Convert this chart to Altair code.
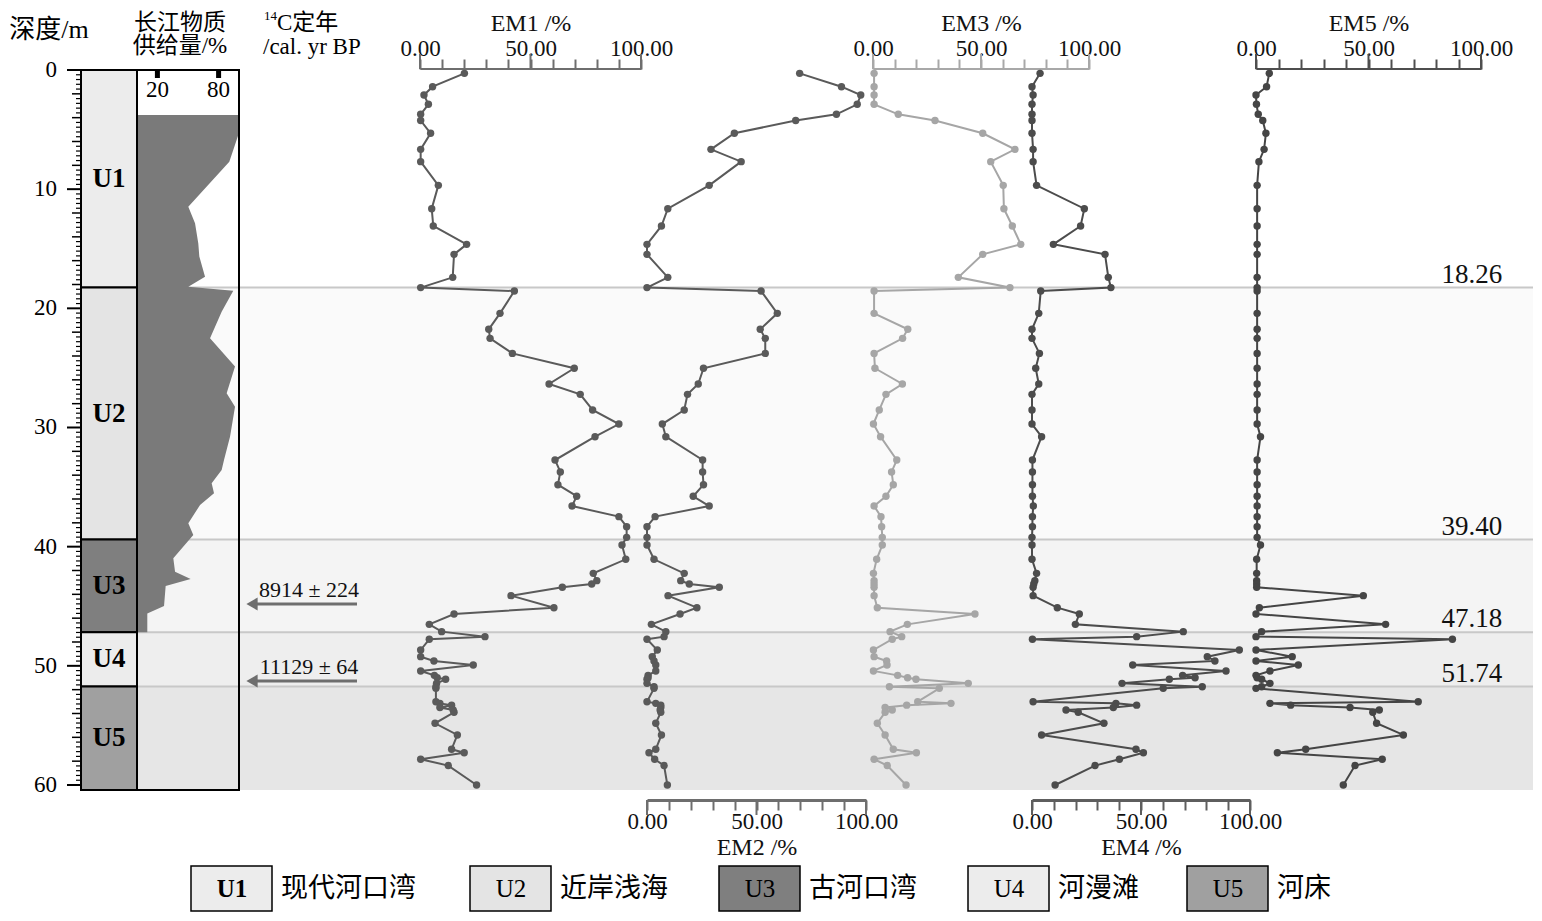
import altair as alt
import pandas as pd

# ---------------- data ----------------
DEPTH = [0.28, 1.40, 2.10, 2.88, 3.72, 4.24, 5.31, 6.66, 7.69, 9.68,
         11.64, 13.09, 14.63, 15.47, 17.40, 18.26, 18.55, 20.42, 21.76, 22.52,
         23.78, 25.03, 26.35, 27.22, 28.53, 29.71, 30.77, 32.73, 33.73, 34.80,
         35.77, 36.59, 37.48, 38.32, 39.22, 39.86, 41.06, 42.24, 42.85, 43.13,
         43.41, 44.11, 45.12, 45.65, 46.52, 47.13, 47.55, 47.77, 48.67, 49.23,
         49.59, 49.93, 50.43, 50.80, 51.00, 51.13, 51.47, 51.75, 51.89, 53.01,
         53.15, 53.30, 53.50, 53.70, 53.90, 54.82, 55.80, 57.00, 57.30, 57.84,
         58.37, 60.00]
EM1 = [20.1, 5.7, 1.8, 3.8, 0.3, 0.3, 4.8, 0.3, 0.3, 8.3,
       5.3, 6.0, 21.1, 15.4, 14.8, 0.3, 42.7, 36.2, 31.1, 31.7,
       41.8, 69.8, 58.4, 72.5, 78.1, 90.0, 79.2, 61.1, 63.5, 62.4,
       70.9, 68.8, 90.0, 93.5, 93.5, 91.4, 93.1, 78.4, 80.0, 77.7,
       64.4, 41.2, 60.6, 15.4, 4.2, 9.8, 29.4, 4.2, 0.3, 0.3,
       6.3, 24.1, 0.3, 6.5, 7.8, 11.6, 7.5, 7.2, 7.2, 7.2,
       9.0, 14.3, 9.0, 15.0, 15.4, 6.8, 16.9, 14.3, 20.0, 0.3,
       12.8, 25.6]
EM2 = [69.7, 88.8, 97.6, 96.0, 86.5, 67.9, 39.9, 29.2, 43.0, 28.4,
       9.5, 6.6, 0.0, 0.0, 9.5, 0.0, 52.1, 59.5, 51.7, 54.0,
       54.0, 25.8, 23.4, 18.5, 17.0, 7.0, 8.6, 25.4, 25.4, 25.8,
       21.1, 28.4, 3.7, 0.0, 0.0, 0.0, 3.2, 17.0, 15.4, 19.3,
       33.0, 9.6, 22.8, 15.1, 2.0, 8.6, 7.8, 0.0, 4.7, 2.4,
       3.2, 4.0, 4.0, 0.5, 0.5, 0.0, 0.0, 3.2, 3.2, 0.0,
       4.0, 6.3, 6.3, 6.0, 6.3, 4.0, 6.6, 4.0, 0.9, 3.5,
       7.8, 9.3]
EM3 = [0.5, 0.5, 0.5, 0.5, 11.7, 28.7, 50.8, 65.7, 54.5, 60.3,
       60.6, 64.5, 68.4, 50.8, 39.5, 63.4, 0.5, 0.5, 16.1, 13.7,
       0.5, 0.9, 13.6, 6.0, 2.9, 0.2, 3.5, 11.0, 8.6, 9.4,
       6.0, 0.5, 3.7, 4.0, 4.3, 4.3, 1.7, 0.2, 0.5, 0.5,
       0.5, 0.5, 2.0, 47.2, 15.9, 7.9, 13.3, 8.9, 0.2, 0.5,
       6.3, 6.5, 0.2, 11.4, 16.0, 19.9, 44.1, 7.6, 30.7, 20.7,
       36.1, 15.6, 5.6, 8.9, 5.6, 2.0, 5.6, 9.4, 20.1, 0.5,
       6.6, 15.3]
EM4 = [3.7, 0.0, 0.5, 0.0, 0.0, 0.0, 0.0, 0.5, 0.5, 2.1,
       24.0, 22.3, 9.8, 33.5, 35.0, 36.2, 4.0, 3.1, 0.0, 0.0,
       3.4, 1.7, 3.1, 0.0, 0.0, 0.0, 4.4, 0.2, 0.2, 0.2,
       0.2, 0.6, 0.2, 0.2, 0.0, 0.0, 0.0, 2.1, 1.3, 0.8,
       0.5, 0.5, 11.6, 21.7, 19.9, 69.4, 48.0, 0.2, 95.1, 80.4,
       83.9, 46.2, 89.0, 69.1, 74.8, 63.0, 41.3, 78.1, 60.2, 0.5,
       38.5, 48.0, 37.3, 15.6, 21.2, 33.0, 4.4, 47.7, 51.1, 40.1,
       28.9, 10.6]
EM5 = [5.9, 4.7, 0.0, 0.2, 1.0, 3.0, 4.4, 3.6, 1.3, 0.5,
       0.5, 0.5, 0.5, 0.5, 0.5, 0.5, 0.5, 0.5, 0.5, 0.5,
       0.5, 0.5, 0.5, 0.5, 0.5, 0.5, 2.0, 0.5, 0.5, 0.5,
       0.5, 0.5, 0.5, 0.5, 0.5, 2.0, 0.3, 0.3, 0.3, 0.3,
       0.3, 47.7, 1.5, 0.0, 57.6, 2.5, 0.0, 87.3, 0.0, 16.1,
       0.0, 18.8, 6.2, 0.0, 0.5, 2.5, 6.2, 2.5, 0.0, 72.1,
       6.2, 15.4, 41.8, 54.8, 51.9, 53.6, 65.5, 22.1, 9.5, 56.1,
       44.0, 38.8]

SUPPLY_DEPTH = [3.78, 5.45, 7.69, 11.47, 12.87, 14.55, 15.66, 17.34, 18.18, 18.52,
                20.28, 22.52, 24.89, 27.13, 28.25, 30.77, 32.73, 33.57, 34.68, 35.52,
                36.50, 38.04, 39.02, 40.98, 42.10, 42.71, 43.30, 44.98, 45.60, 47.18]
SUPPLY = [100.0, 99.3, 90.5, 50.3, 56.9, 60.1, 61.1, 66.7, 50.3, 94.4,
          83.0, 71.6, 96.1, 87.9, 96.1, 91.2, 85.3, 83.0, 73.2, 75.5,
          61.8, 50.3, 55.2, 35.6, 37.3, 52.6, 28.1, 26.5, 10.1, 10.1]

UNITS = ["U1", "U2", "U3", "U4", "U5"]
UNIT_NAMES = ["现代河口湾", "近岸浅海", "古河口湾", "河漫滩", "河床"]
UNIT_TOP = [0.0, 18.26, 39.40, 47.18, 51.74]
UNIT_BOTTOM = [18.26, 39.40, 47.18, 51.74, 60.42]
BOUNDARY_LABELS = ["18.26", "39.40", "47.18", "51.74"]
DATE_DEPTH = [44.81, 51.27]
DATE_LABELS = ["8914 ± 224", "11129 ± 64"]
EM_TICKS = list(range(0, 101, 10))
EM_MAJOR = [0, 50, 100]
SUPPLY_TICKS = [20, 80]
DEPTH_MAJOR = list(range(0, 61, 10))
DEPTH_MEDIUM = [d for d in range(2, 60, 2) if d % 10]
DEPTH_MINOR = [round(0.4 * k, 1) for k in range(1, 150) if k % 5]

# ---------------- styles ----------------
UNIT_FILL = ["#ececec", "#e4e4e4", "#7f7f7f", "#ececec", "#a0a0a0"]
BAND_FILL = ["#ffffff", "#fafafa", "#f4f4f4", "#eeeeee", "#e6e6e6"]
W, H = 1452, 720
SERIF = "Liberation Serif"
CJK = "Liberation Serif, Noto Sans CJK SC"
Y = alt.Scale(domain=[0, 60.42], reverse=True, nice=False, zero=False)

units = pd.DataFrame({"unit": UNITS, "name": UNIT_NAMES, "top": UNIT_TOP,
                      "bottom": UNIT_BOTTOM, "fill": UNIT_FILL, "band": BAND_FILL})
units["mid"] = (units["top"] + units["bottom"]) / 2
bounds = pd.DataFrame({"depth": UNIT_BOTTOM[:4], "label": BOUNDARY_LABELS})
em_df = pd.DataFrame({"depth": DEPTH, "EM1": EM1, "EM2": EM2, "EM3": EM3, "EM4": EM4, "EM5": EM5})


def ydepth(field):
    return alt.Y(f"{field}:Q", scale=Y, axis=None)


# ---------------- background bands & boundaries ----------------
FRAME = alt.Scale(domain=[0, 1], range=[56, W], nice=False, zero=False)
bands = alt.Chart(units).transform_calculate(a="0", b="1").mark_rect().encode(
    x=alt.X("a:Q", scale=FRAME, axis=None), x2="b:Q",
    y=ydepth("top"), y2="bottom:Q", fill=alt.Fill("band:N", scale=None))
blines = alt.Chart(bounds).transform_calculate(a="0", b="1").mark_rule(
    color="#c8c8c8", strokeWidth=2).encode(
    x=alt.X("a:Q", scale=FRAME, axis=None), x2="b:Q", y=ydepth("depth"))
blabels = alt.Chart(bounds).transform_calculate(a="0.978").mark_text(
    align="right", baseline="alphabetic", dy=-5, font=SERIF, fontSize=27, color="#111").encode(
    x=alt.X("a:Q", scale=FRAME, axis=None), y=ydepth("depth"), text="label:N")
frame = alt.layer(bands, blines, blabels)

# ---------------- Yangtze supply ----------------
SUP = alt.Scale(domain=[0, 100], range=[56, 158], nice=False, zero=False)
supply_df = pd.DataFrame({"depth": SUPPLY_DEPTH, "v": SUPPLY})
area = alt.Chart(supply_df).transform_calculate(z="0").mark_area(
    orient="horizontal", color="#7a7a7a", opacity=1).encode(
    y=ydepth("depth"), x=alt.X("v:Q", scale=SUP, axis=None, stack=None), x2="z:Q")
box = alt.Chart(pd.DataFrame({"k": [0]})).transform_calculate(
    a="0", b="100", t="0", u="60.42").mark_rect(
    fill="white", fillOpacity=0, stroke="black", strokeWidth=2).encode(
    x=alt.X("a:Q", scale=SUP, axis=None), x2="b:Q", y=ydepth("t"), y2="u:Q")
sticks = alt.Chart(pd.DataFrame({"v": SUPPLY_TICKS})).mark_rule(
    color="black", strokeWidth=5).encode(
    x=alt.X("v:Q", scale=SUP, axis=None), y=alt.value(0), y2=alt.value(8))
slabels = alt.Chart(pd.DataFrame({"v": SUPPLY_TICKS})).mark_text(
    font=SERIF, fontSize=23, color="black", baseline="middle").encode(
    x=alt.X("v:Q", scale=SUP, axis=None), y=alt.value(20), text="v:Q")
supply = alt.layer(area, box, sticks, slabels)

# ---------------- lithology column & depth axis ----------------
COL = alt.Scale(domain=[0, 1], range=[0, 56], nice=False, zero=False)
col = alt.Chart(units).transform_calculate(a="0", b="1").mark_rect(
    stroke="black", strokeWidth=2).encode(
    x=alt.X("a:Q", scale=COL, axis=None), x2="b:Q",
    y=ydepth("top"), y2="bottom:Q", fill=alt.Fill("fill:N", scale=None))
coltext = alt.Chart(units).transform_calculate(c="0.5").mark_text(
    font=SERIF, fontSize=27, fontWeight="bold", color="black").encode(
    x=alt.X("c:Q", scale=COL, axis=None), y=ydepth("mid"), text="unit:N")
major_df = pd.DataFrame({"d": DEPTH_MAJOR})
dmajor = alt.Chart(major_df).mark_rule(color="black", strokeWidth=2).encode(
    y=ydepth("d"), x=alt.value(-14), x2=alt.value(0))
dlabels = alt.Chart(major_df).mark_text(
    font=SERIF, fontSize=23, color="black", align="right", baseline="middle").encode(
    y=ydepth("d"), x=alt.value(-24), text="d:Q")
med = alt.Chart(pd.DataFrame({"d": DEPTH_MEDIUM})).mark_rule(color="black", strokeWidth=1.5).encode(
    y=ydepth("d"), x=alt.value(-9), x2=alt.value(0))
minor = alt.Chart(pd.DataFrame({"d": DEPTH_MINOR})).mark_rule(color="black", strokeWidth=1.2).encode(
    y=ydepth("d"), x=alt.value(-5), x2=alt.value(0))
column = alt.layer(col, coltext, dmajor, dlabels, med, minor)

# ---------------- 14C dates ----------------
dates_df = pd.DataFrame({"depth": DATE_DEPTH, "label": DATE_LABELS})
arrow_line = alt.Chart(dates_df).mark_rule(color="#6e6e6e", strokeWidth=3).encode(
    y=ydepth("depth"), x=alt.value(172), x2=alt.value(276))
arrow_head = alt.Chart(dates_df).mark_point(
    shape="triangle-left", filled=True, color="#6e6e6e", size=170, opacity=1).encode(
    y=ydepth("depth"), x=alt.value(171))
date_text = alt.Chart(dates_df).mark_text(
    font=SERIF, fontSize=22, color="#111", dy=-14).encode(
    y=ydepth("depth"), x=alt.value(228), text="label:N")
dates = alt.layer(arrow_line, arrow_head, date_text)


# ---------------- end-member curves ----------------
def em_group(field, rng, orient, line_color, axis_color):
    xs = alt.Scale(domain=[0, 100], range=rng, nice=False, zero=False)
    top = orient == "top"
    axis = alt.Axis(
        orient=orient, values=EM_TICKS, offset=1 if top else 10,
        tickSize=10, tickWidth=2, tickColor=axis_color,
        domainColor=axis_color, domainWidth=3,
        labelExpr="datum.value % 50 === 0 ? format(datum.value, '.2f') : ''",
        labelFont=SERIF, labelFontSize=23, labelColor="#111",
        labelBaseline="alphabetic", labelPadding=4 if top else 18,
        labelFlush=False, labelOverlap=False,
        title=f"{field} /%", titleFont=SERIF, titleFontSize=24, titleFontWeight="normal",
        titleColor="#111", titleBaseline="middle", titleY=-46 if top else 47, grid=False)
    base = alt.Chart(em_df)
    line = base.mark_line(color=line_color, strokeWidth=2).encode(
        x=alt.X(f"{field}:Q", scale=xs, axis=axis), y=ydepth("depth"), order="depth:Q")
    pts = base.mark_circle(color=line_color, size=55, opacity=1).encode(
        x=alt.X(f"{field}:Q", scale=xs, axis=axis), y=ydepth("depth"))
    y0, y1 = (-1, -16) if top else (730, 745)
    major = alt.Chart(pd.DataFrame({"v": EM_MAJOR})).mark_rule(
        color=axis_color, strokeWidth=2).encode(
        x=alt.X("v:Q", scale=xs, axis=axis), y=alt.value(y0), y2=alt.value(y1))
    return alt.layer(major, line, pts)


em1 = em_group("EM1", [339, 560], "top", "#5a5a5a", "#6e6e6e")
em2 = em_group("EM2", [566, 785], "bottom", "#5a5a5a", "#6e6e6e")
em3 = em_group("EM3", [792, 1008], "top", "#a6a6a6", "#a8a8a8")
em4 = em_group("EM4", [951, 1169], "bottom", "#4c4c4c", "#5e5e5e")
em5 = em_group("EM5", [1175, 1400], "top", "#454545", "#4e4e4e")


# ---------------- header texts ----------------
def text_at(text, x, y, size, align="left", font=CJK, weight="normal"):
    return alt.Chart(pd.DataFrame({"t": [text]})).mark_text(
        align=align, baseline="middle", fontSize=size, font=font,
        fontWeight=weight, color="black").encode(
        x=alt.value(x), y=alt.value(y), text="t:N")


headers = [
    text_at("深度/m", -32, -40, 26, align="center"),
    text_at("长江物质", 99, -47, 23, align="center"),
    text_at("供给量/%", 99, -24, 23, align="center"),
    text_at("14", 183, -54, 13, font=SERIF),
    text_at("C定年", 196, -47, 23),
    text_at("/cal. yr BP", 182, -23, 23, font=SERIF),
]

# ---------------- legend ----------------
legend = []
lx = 110
for code, name, fill in zip(UNITS, UNIT_NAMES, UNIT_FILL):
    d = pd.DataFrame({"code": [code], "name": [name]})
    legend.append(alt.Chart(d).mark_rect(fill=fill, stroke="black", strokeWidth=1.5).encode(
        x=alt.value(lx), x2=alt.value(lx + 81), y=alt.value(796), y2=alt.value(841)))
    legend.append(alt.Chart(d).mark_text(
        font=SERIF, fontSize=25, color="black", baseline="middle",
        fontWeight="bold" if code == "U1" else "normal").encode(
        x=alt.value(lx + 41), y=alt.value(819), text="code:N"))
    legend.append(alt.Chart(d).mark_text(
        font=CJK, fontSize=27, color="black", baseline="middle", align="left").encode(
        x=alt.value(lx + 90), y=alt.value(819), text="name:N"))
    lx = lx + 90 + 30 * len(name) + 39

chart = alt.layer(frame, supply, column, dates, em1, em2, em3, em4, em5,
                  *headers, *legend).resolve_scale(x="independent").resolve_axis(
    x="independent").properties(
    width=W, height=H,
    padding={"left": 73, "top": 62, "right": 1, "bottom": 123},
    autosize=alt.AutoSizeParams(type="none"),
).configure_view(stroke=None)

chart.save("out.html", embed_options={"renderer": "svg", "actions": False})
